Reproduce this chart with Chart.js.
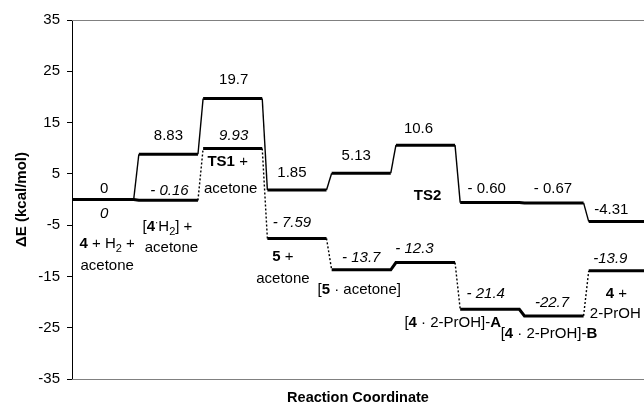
<!DOCTYPE html>
<html>
<head>
<meta charset="utf-8">
<script src="https://cdn.jsdelivr.net/npm/chart.js@4.4.0/dist/chart.umd.min.js"></script>
<style>
  html, body { margin: 0; padding: 0; background: #fff; }
</style>
</head>
<body>
<canvas id="myChart" width="644" height="406"></canvas>
<script>
// energies (kcal/mol) for each stage of the reaction coordinate
var upperEnergy = [0, 8.83, 19.7, 1.85, 5.13, 10.6, -0.60, -0.67, -4.31];
var lowerEnergy = [0, -0.16, 9.93, -7.59, -13.7, -12.3, -21.4, -22.7, -13.9];
var upperText = ["0", "8.83", "19.7", "1.85", "5.13", "10.6", "- 0.60", "- 0.67", "-4.31"];
var lowerText = ["0", "- 0.16", "9.93", "- 7.59", "- 13.7", "- 12.3", "- 21.4", "-22.7", "-13.9"];
var yTickValues = [-35, -25, -15, -5, 5, 15, 25, 35];
var yTitle = "\u0394E (kcal/mol)";
var xTitle = "Reaction Coordinate";

// species names, one entry per stage, each line is a list of [text, style]
var speciesNames = [
  [[["4", "b"], [" + H"], ["2", "sub"], [" +"]], [["acetone"]]],
  [[["["], ["4", "b"], ["\u00b7", "dot"], ["H"], ["2", "sub"], ["] +"]], [["acetone"]]],
  [[["TS1", "b"], [" +"]], [["acetone"]]],
  [[["5", "b"], [" +"]], [["acetone"]]],
  [[["["], ["5", "b"], [" \u00b7 acetone]"]]],
  [[["TS2", "b"]]],
  [[["["], ["4", "b"], [" \u00b7 2-PrOH]-"], ["A", "b"]]],
  [[["["], ["4", "b"], [" \u00b7 2-PrOH]-"], ["B", "b"]]],
  [[["4", "b"], [" +"]], [["2-PrOH"]]]
];

var FAM = "'Liberation Sans', Arial, Helvetica, sans-serif";
Chart.defaults.font.family = FAM;
Chart.defaults.color = "#000";

function buildPath(values) {
  var pts = [];
  values.forEach(function (v, i) {
    pts.push({ x: i + (i === 0 ? 0 : 0.04), y: v });
    pts.push({ x: i + 0.96, y: v });
  });
  return pts;
}

// label placement: [dx, baseline offset from the level line]
var upperPos = [[0, -7], [0, -14], [1, -14], [-5, -13.5], [-5, -12.7], [-7, -11.7], [-3, -9.6], [-1, -10], [-7, -8]];
var lowerPos = [[0, 18.5], [1, -5], [1, -9], [-5, -11], [0, -8], [-11, -10], [-4, -11], [-2, -9], [-8, -8]];
var namePos = [
  [[3, 48.5], [3, 70.5]],
  [[-1, 31], [3, 52]],
  [[-5, 17], [-2, 44]],
  [[-14, 23], [-14, 45]],
  [[-2, 24]],
  [[2, -63]],
  [[-37, 18]],
  [[-5, 22]],
  [[-2, 27], [-3, 47]]
];

function pieceFont(style) {
  if (style === "b") return "bold 15px " + FAM;
  if (style === "sub") return "11px " + FAM;
  if (style === "dot") return "10px " + FAM;
  if (style === "i") return "italic 15px " + FAM;
  return "15px " + FAM;
}

function drawRich(ctx, pieces, cx, base) {
  var total = 0;
  pieces.forEach(function (p) {
    ctx.font = pieceFont(p[1]);
    total += ctx.measureText(p[0]).width;
  });
  var x = cx - total / 2;
  ctx.textAlign = "left";
  ctx.textBaseline = "alphabetic";
  pieces.forEach(function (p) {
    ctx.font = pieceFont(p[1]);
    var dy = p[1] === "sub" ? 4 : (p[1] === "dot" ? -5 : 0);
    ctx.fillText(p[0], x, base + dy);
    x += ctx.measureText(p[0]).width;
  });
}

var labelPlugin = {
  id: "labels",
  afterDraw: function (chart) {
    var ctx = chart.ctx, xs = chart.scales.x, ys = chart.scales.y, a = chart.chartArea;
    ctx.save();
    // frame lines
    ctx.strokeStyle = "#808080";
    ctx.lineWidth = 1;
    ctx.beginPath();
    ctx.moveTo(a.left, a.top + 0.5); ctx.lineTo(a.right, a.top + 0.5);
    ctx.moveTo(a.left, a.bottom + 0.5); ctx.lineTo(a.right, a.bottom + 0.5);
    ctx.stroke();
    ctx.fillStyle = "#000";
    for (var i = 0; i < upperEnergy.length; i++) {
      var cx = xs.getPixelForValue(i + 0.5);
      var uy = ys.getPixelForValue(upperEnergy[i]);
      var ly = ys.getPixelForValue(lowerEnergy[i]);
      drawRich(ctx, [[upperText[i]]], cx + upperPos[i][0], uy + upperPos[i][1]);
      drawRich(ctx, [[lowerText[i], "i"]], cx + lowerPos[i][0], ly + lowerPos[i][1]);
      speciesNames[i].forEach(function (line, k) {
        drawRich(ctx, line, cx + namePos[i][k][0], ly + namePos[i][k][1]);
      });
    }
    ctx.font = "bold 14.5px " + FAM;
    ctx.textAlign = "center";
    ctx.textBaseline = "middle";
    ctx.fillText(xTitle, (a.left + a.right) / 2, 398);
    ctx.restore();
  }
};

// level segments are thick; connectors are thin unless the step is tiny
function isSmallStep(c) { return Math.abs(c.p1.parsed.y - c.p0.parsed.y) < 2; }
function segWidth(c) { return (c.p0DataIndex % 2 === 0 || isSmallStep(c)) ? 3 : 1.4; }

var ctx = document.getElementById("myChart").getContext("2d");
var myChart = new Chart(ctx, {
  type: "line",
  data: {
    datasets: [
      {
        data: buildPath(lowerEnergy),
        borderColor: "#000",
        borderWidth: 3,
        pointRadius: 0,
        tension: 0,
        segment: {
          borderWidth: segWidth,
          borderDash: function (c) { return (c.p0DataIndex % 2 === 0 || isSmallStep(c)) ? [] : [2, 2]; }
        }
      },
      {
        data: buildPath(upperEnergy),
        borderColor: "#000",
        borderWidth: 3,
        pointRadius: 0,
        tension: 0,
        segment: { borderWidth: segWidth }
      }
    ]
  },
  options: {
    responsive: false,
    animation: false,
    events: [],
    layout: { padding: { top: 20, bottom: 27, left: 0, right: 0 } },
    plugins: { legend: { display: false }, tooltip: { enabled: false } },
    scales: {
      x: { type: "linear", min: 0, max: 8.9, display: false },
      y: {
        min: -35,
        max: 35,
        afterBuildTicks: function (s) { s.ticks = yTickValues.map(function (v) { return { value: v }; }); },
        afterFit: function (s) { s.width = 72; },
        ticks: { font: { size: 15 }, color: "#000", padding: 7 },
        grid: { drawOnChartArea: false, tickLength: 5, color: "#000" },
        border: { color: "#000", width: 1 },
        title: {
          display: true,
          text: yTitle,
          font: { size: 15, weight: "bold" },
          color: "#000",
          padding: { top: 13, bottom: 0 }
        }
      }
    }
  },
  plugins: [labelPlugin]
});
</script>
</body>
</html>
